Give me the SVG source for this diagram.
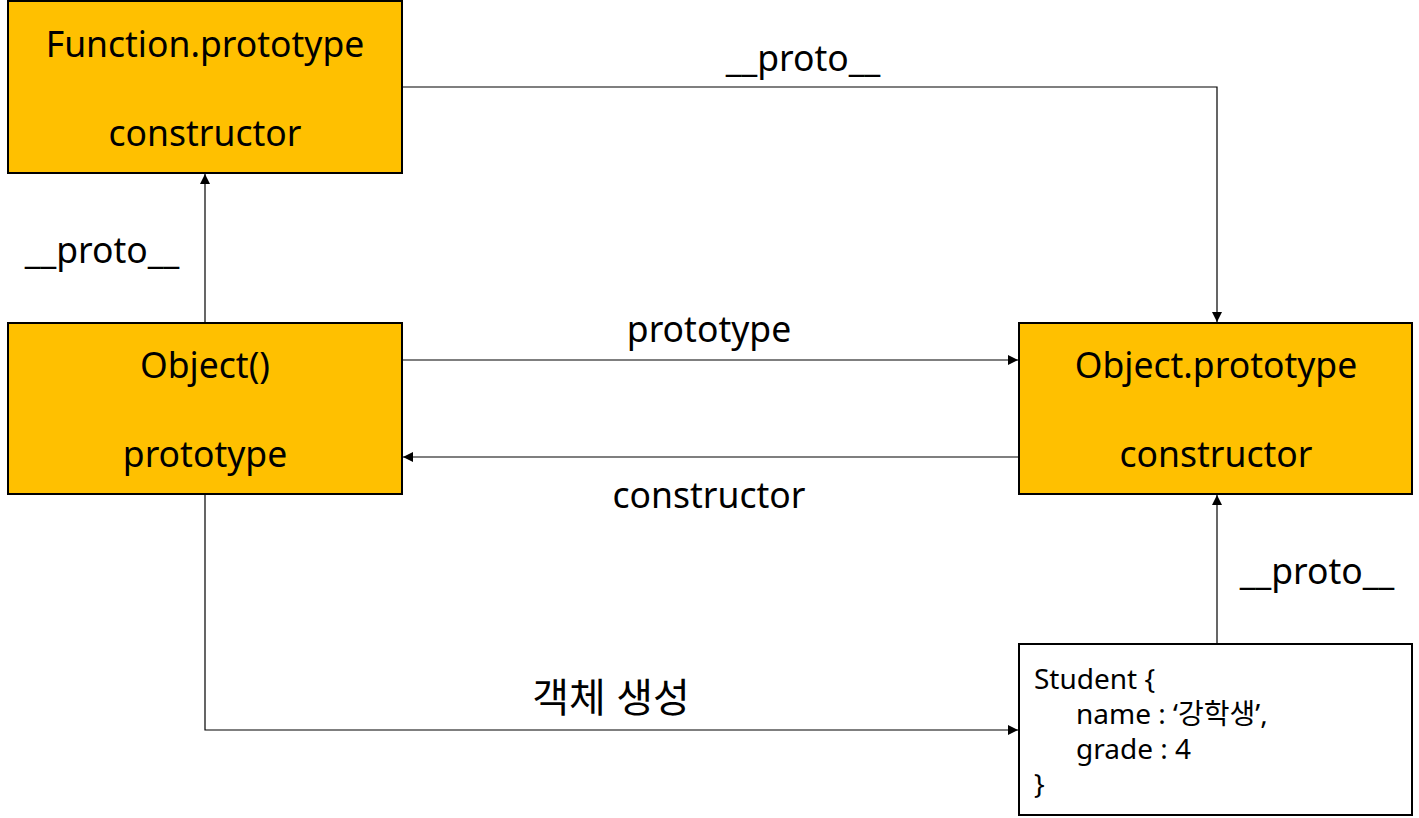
<svg xmlns="http://www.w3.org/2000/svg" width="1419" height="818" viewBox="0 0 1419 818">
<style>
.box{fill:#ffc000;stroke:#000;stroke-width:2}
.wbox{fill:#fff;stroke:#000;stroke-width:2}
.t{font-family:"Noto Sans","Noto Sans CJK KR",sans-serif;font-size:35.5px;fill:#000;text-anchor:middle}
.k{font-size:40px}
.s{font-family:"Noto Sans","Noto Sans CJK KR",sans-serif;font-size:28px;fill:#000}
.c{fill:none;stroke:#000;stroke-width:1.2}
</style>
<defs>
<marker id="ah" viewBox="0 0 10 10" refX="10" refY="5" markerWidth="10" markerHeight="10" markerUnits="userSpaceOnUse" orient="auto">
<path d="M0,0 L10,5 L0,10 Z" fill="#000"/>
</marker>
</defs>
<g id="connectors">
<path class="c" d="M402,87 H1217 V322" marker-end="url(#ah)"/>
<path class="c" d="M205,323 V174" marker-end="url(#ah)"/>
<path class="c" d="M402,360 H1018" marker-end="url(#ah)"/>
<path class="c" d="M1019,457 H403" marker-end="url(#ah)"/>
<path class="c" d="M1217,644 V495" marker-end="url(#ah)"/>
<path class="c" d="M205,494 V730 H1018" marker-end="url(#ah)"/>
<text class="t" x="803" y="71">__proto__</text>
<text class="t" x="102" y="263">__proto__</text>
<text class="t" x="709" y="342">prototype</text>
<text class="t" x="709" y="508">constructor</text>
<text class="t" x="1317" y="584">__proto__</text>
<text class="t k" x="611" y="712">객체 생성</text>
</g>
<g id="function-prototype">
<rect class="box" x="8" y="1" width="394" height="172"/>
<text class="t" x="205" y="57">Function.prototype</text>
<text class="t" x="205" y="146">constructor</text>
</g>
<g id="object-ctor">
<rect class="box" x="8" y="323" width="394" height="171"/>
<text class="t" x="205" y="378">Object()</text>
<text class="t" x="205" y="467">prototype</text>
</g>
<g id="object-prototype">
<rect class="box" x="1019" y="323" width="393" height="171"/>
<text class="t" x="1216" y="378">Object.prototype</text>
<text class="t" x="1216" y="467">constructor</text>
</g>
<g id="student">
<rect class="wbox" x="1019" y="644" width="393" height="171"/>
<text class="s" x="1034" y="689">Student {</text>
<text class="s" x="1076" y="724">name : ‘강학생’,</text>
<text class="s" x="1076" y="759">grade : 4</text>
<text class="s" x="1034" y="794">}</text>
</g>
</svg>
